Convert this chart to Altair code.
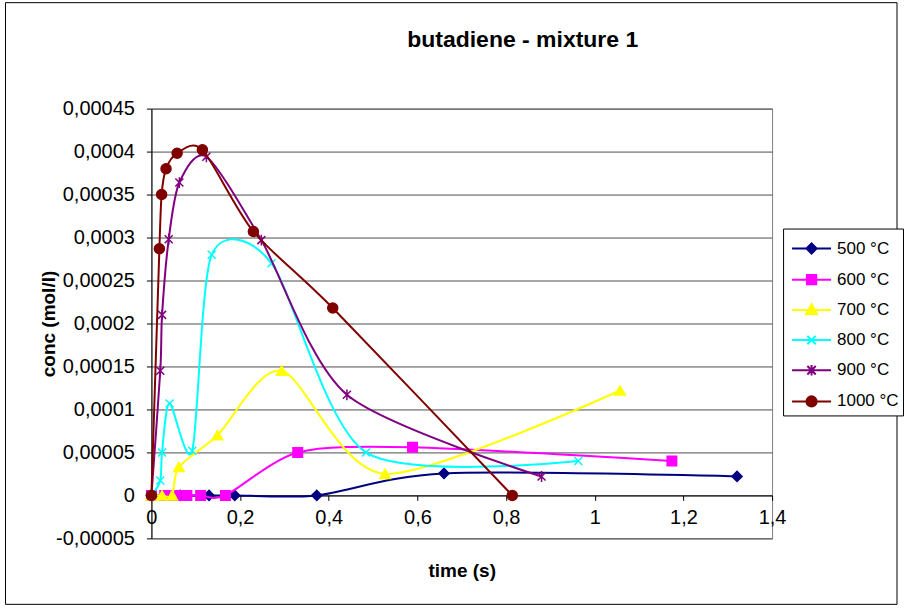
import altair as alt
import pandas as pd

FONT = "Liberation Sans"

# Series (temperature) names and their Excel-style colours
series = ["500 °C", "600 °C", "700 °C", "800 °C", "900 °C", "1000 °C"]
colors = ["#000080", "#FF00FF", "#FFFF00", "#00FFFF", "#800080", "#800000"]

# Measured concentrations (mol/l) against residence time (s)
time_500 = [0, 0.065, 0.13, 0.188, 0.373, 0.66, 1.321]
conc_500 = [0, 0, 0, 0, 0, 0.0000256, 0.0000221]

time_600 = [0, 0.03, 0.055, 0.08, 0.111, 0.167, 0.330, 0.589, 1.174]
conc_600 = [0, 0, 0, 0, 0, 0, 0.00005, 0.000056, 0.00004]

time_700 = [0, 0.024, 0.047, 0.062, 0.149, 0.294, 0.527, 1.057]
conc_700 = [0, 0, 0, 0.000033, 0.00007, 0.000145, 0.000025, 0.000122]

time_800 = [0, 0.020, 0.024, 0.041, 0.092, 0.136, 0.271, 0.484, 0.963]
conc_800 = [0, 0.0000174, 0.00005, 0.000107, 0.000052, 0.00028, 0.00027, 0.00005, 0.00004]

time_900 = [0, 0.020, 0.024, 0.039, 0.063, 0.124, 0.248, 0.441, 0.880]
conc_900 = [0, 0.000145, 0.00021, 0.000298, 0.000364, 0.000394, 0.000297, 0.000117, 0.000022]

time_1000 = [0, 0.018, 0.023, 0.033, 0.058, 0.115, 0.230, 0.409, 0.814]
conc_1000 = [0, 0.000287, 0.00035, 0.00038, 0.000398, 0.000402, 0.000307, 0.000218, 0]

x_ticks = [0, 0.2, 0.4, 0.6, 0.8, 1.0, 1.2, 1.4]
y_ticks = [-0.00005, 0, 0.00005, 0.0001, 0.00015, 0.0002, 0.00025, 0.0003,
           0.00035, 0.0004, 0.00045]

times = [time_500, time_600, time_700, time_800, time_900, time_1000]
concs = [conc_500, conc_600, conc_700, conc_800, conc_900, conc_1000]

# Plot markers: (shape, size)
X_PATH = "M-1,-1L1,1M-1,1L1,-1"
STAR_PATH = "M-1,-1L1,1M-1,1L1,-1M0,-1.35L0,1.35"
markers = [("diamond", 100), ("square", 90), ("triangle-up", 110),
           (X_PATH, 64), (STAR_PATH, 64), ("circle", 100)]

# Legend keys: a short line with the marker in its middle (unit = 15 px)
LINE = "M-1.3,0L1.3,0"
legend_paths = [
    LINE + "M0,-0.34L0.34,0L0,0.34L-0.34,0Z",
    LINE + "M-0.31,-0.31L0.31,-0.31L0.31,0.31L-0.31,0.31Z",
    LINE + "M0,-0.37L0.36,0.28L-0.36,0.28Z",
    LINE + "M-0.28,-0.28L0.28,0.28M-0.28,0.28L0.28,-0.28",
    LINE + "M-0.28,-0.28L0.28,0.28M-0.28,0.28L0.28,-0.28M0,-0.35L0,0.35",
    LINE + "M-0.34,0A0.34,0.34,0,1,0,0.34,0A0.34,0.34,0,1,0,-0.34,0Z",
]

PLOT_W, PLOT_H = 621, 430
Y_MIN, Y_MAX = -0.00005, 0.00045
X_AXIS_OFFSET = -PLOT_H * (0 - Y_MIN) / (Y_MAX - Y_MIN)


def comma_label(fmt):
    return ("replace(replace(format(datum.value, '" + fmt + "'), '.', ','), '\u2212', '-')")


x_enc = alt.X(
    "t:Q",
    scale=alt.Scale(domain=[0, 1.4], nice=False, zero=False),
    axis=alt.Axis(values=x_ticks, title="time (s)", offset=X_AXIS_OFFSET, grid=False,
                  labelExpr=comma_label(".1~f"), tickSize=5, labelPadding=7,
                  titlePadding=34, labelFlush=False, labelOverlap=False),
)
y_enc = alt.Y(
    "c:Q",
    scale=alt.Scale(domain=[Y_MIN, Y_MAX], nice=False, zero=False),
    axis=alt.Axis(values=y_ticks, title="conc (mol/l)", grid=True,
                  labelExpr=comma_label(".5~f"), tickSize=5, labelPadding=12,
                  titlePadding=-3, labelFlush=False, labelOverlap=False),
)

layers = []
for name, color, ts, cs, (shape, size) in zip(series, colors, times, concs, markers):
    df = pd.DataFrame({"t": ts, "c": cs, "series": name})
    base = alt.Chart(df).encode(x=x_enc, y=y_enc)
    line = base.mark_line(interpolate="cardinal", tension=0.2, color=color, strokeWidth=2)
    pts = base.mark_point(shape=shape, size=size, filled=True, fill=color,
                          stroke=color, strokeWidth=1.5, opacity=1)
    layers += [line, pts]

# Legend carrier: no marks drawn, only the scales feeding the legend
all_df = pd.concat(
    [pd.DataFrame({"t": ts, "c": cs, "series": n}) for n, ts, cs in zip(series, times, concs)]
)
legend_def = alt.Legend(
    title=None, orient="none", legendX=632, legendY=120, padding=4,
    strokeColor="#000000", fillColor="#ffffff", symbolSize=900, symbolStrokeWidth=2,
    symbolOffset=8.5, labelOffset=9.5, labelFont=FONT, labelFontSize=17,
    labelColor="#000000", rowPadding=5.2,
)
legend_layer = alt.Chart(all_df).transform_filter("false").mark_point(
    filled=True, opacity=1
).encode(
    x=x_enc, y=y_enc,
    fill=alt.Fill("series:N", scale=alt.Scale(domain=series, range=colors), legend=legend_def),
    stroke=alt.Stroke("series:N", scale=alt.Scale(domain=series, range=colors), legend=legend_def),
    shape=alt.Shape("series:N", scale=alt.Scale(domain=series, range=legend_paths), legend=legend_def),
)

# Outer chart-area frame
frame = alt.Chart(pd.DataFrame({"k": [0]})).mark_rect(
    fill="transparent", stroke="#000000", strokeWidth=1
).encode(
    x=alt.value(-146), x2=alt.value(746), y=alt.value(-106), y2=alt.value(496)
)

chart = alt.layer(frame, *layers, legend_layer).properties(
    width=PLOT_W, height=PLOT_H,
    padding={"left": 4.5, "top": 1.5, "right": 0, "bottom": 0},
    title=alt.TitleParams("butadiene - mixture 1", font=FONT, fontSize=23,
                          fontWeight="bold", anchor="middle", frame="group",
                          dx=61, offset=-50, color="#000000"),
).configure(
    background="#ffffff"
).configure_view(
    stroke="#808080", strokeWidth=1, fill="#ffffff"
).configure_axis(
    labelFont=FONT, labelFontSize=20, labelColor="#000000",
    titleFont=FONT, titleFontSize=19, titleFontWeight="bold", titleColor="#000000",
    domainColor="#000000", tickColor="#000000", gridColor="#4d4d4d", gridWidth=1,
)

chart.save("out.html", embed_options={"renderer": "svg", "actions": False})
